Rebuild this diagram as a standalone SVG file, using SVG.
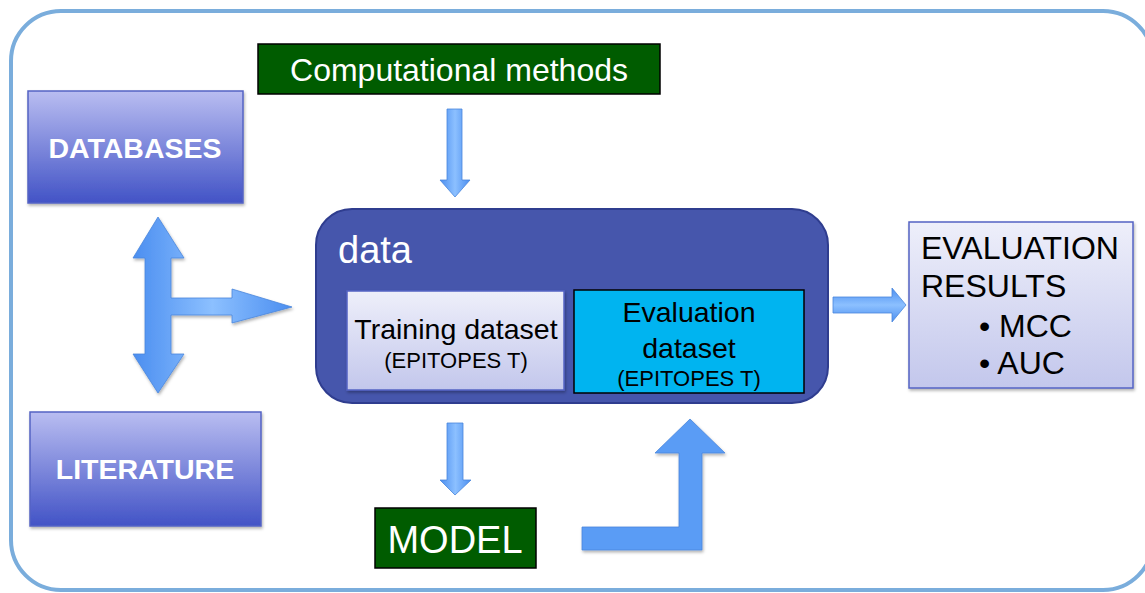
<svg xmlns="http://www.w3.org/2000/svg" width="1145" height="593" viewBox="0 0 1145 593">
<defs>
<linearGradient id="gBlue" x1="0" y1="0" x2="0" y2="1">
<stop offset="0" stop-color="#b9bdf1"/>
<stop offset="1" stop-color="#4253c6"/>
</linearGradient>
<linearGradient id="gLight" x1="0" y1="0" x2="0" y2="1">
<stop offset="0" stop-color="#eeeffa"/>
<stop offset="1" stop-color="#c3c7ec"/>
</linearGradient>
<linearGradient id="gArrV" x1="0" y1="0" x2="1" y2="0">
<stop offset="0" stop-color="#4b8ef0"/>
<stop offset="0.5" stop-color="#8cc0ff"/>
<stop offset="1" stop-color="#4b8ef0"/>
</linearGradient>
<linearGradient id="gArrH" x1="0" y1="0" x2="0" y2="1">
<stop offset="0" stop-color="#4b8ef0"/>
<stop offset="0.5" stop-color="#8cc0ff"/>
<stop offset="1" stop-color="#4b8ef0"/>
</linearGradient>
<filter id="sh" x="-10%" y="-10%" width="130%" height="130%">
<feDropShadow dx="1" dy="2" stdDeviation="1.5" flood-color="#000" flood-opacity="0.3"/>
</filter>
</defs>
<style>
.blue{fill:url(#gBlue);stroke:#5463c4;stroke-width:1.5}
.light{fill:url(#gLight);stroke:#5463c4;stroke-width:1.5}
.green{fill:#005c00;stroke:#000;stroke-width:1.5}
.bold{font-family:"Liberation Sans",Arial,sans-serif;font-weight:bold;fill:#fff;font-size:28.5px;text-anchor:middle}
.t{font-family:"Liberation Sans",Arial,sans-serif;fill:#000}
.w{font-family:"Liberation Sans",Arial,sans-serif;fill:#fff}
.arr{fill:#5a9cf5;stroke:#4a86dc;stroke-width:0.8}
</style>
<rect x="11" y="11" width="1142" height="579" rx="50" fill="#fff" stroke="#7aaddc" stroke-width="4"/>

<g id="databases">
<rect x="28" y="91" width="215" height="112" class="blue" filter="url(#sh)"/>
<text x="135" y="158" class="bold">DATABASES</text>
</g>
<g id="literature">
<rect x="30" y="412" width="231" height="114" class="blue" filter="url(#sh)"/>
<text x="145" y="479" class="bold">LITERATURE</text>
</g>
<g id="computational">
<rect x="258" y="44" width="402" height="50" class="green"/>
<text x="459" y="81" class="w" font-size="32" text-anchor="middle">Computational methods</text>
</g>
<g id="data">
<rect x="316" y="209" width="512" height="194" rx="36" fill="#4656ac" stroke="#2f3d8f" stroke-width="2"/>
<text x="338" y="263" class="w" font-size="38">data</text>
</g>
<g id="training">
<rect x="347" y="291" width="217" height="99" class="light" stroke="none" filter="url(#sh)"/>
<text x="456" y="339" class="t" font-size="28.5" text-anchor="middle">Training dataset</text>
<text x="456" y="368" class="t" font-size="22" text-anchor="middle">(EPITOPES T)</text>
</g>
<g id="evaluation">
<rect x="574" y="290" width="230" height="103" fill="#00b4f0" stroke="#000" stroke-width="1.5"/>
<text x="689" y="322" class="t" font-size="28.5" text-anchor="middle">Evaluation</text>
<text x="689" y="358" class="t" font-size="28.5" text-anchor="middle">dataset</text>
<text x="689" y="386" class="t" font-size="22" text-anchor="middle">(EPITOPES T)</text>
</g>
<g id="results">
<rect x="909" y="222" width="224" height="166" class="light" filter="url(#sh)"/>
<text x="921" y="259" class="t" font-size="32">EVALUATION</text>
<text x="921" y="297" class="t" font-size="32">RESULTS</text>
<text x="979" y="337" class="t" font-size="32">• MCC</text>
<text x="979" y="374" class="t" font-size="32">• AUC</text>
</g>
<g id="model">
<rect x="375" y="508" width="161" height="60" class="green"/>
<text x="455" y="553" class="w" font-size="38" text-anchor="middle">MODEL</text>
</g>

<g id="connectors">
<path d="M158,217 L184,258 L171,258 L171,298 L232,298 L232,289 L292,307 L232,323 L232,315 L171,315 L171,354 L184,354 L158,393 L133,354 L145,354 L145,258 L133,258 Z" fill="url(#gArrV)" stroke="#4a86dc" stroke-width="0.8" filter="url(#sh)"/>
<path d="M447,109 L462,109 L462,180 L470,180 L455,197 L440,180 L447,180 Z" fill="url(#gArrV)" stroke="#4a86dc" stroke-width="0.8"/>
<path d="M447,423 L463,423 L463,480 L471,480 L455,495 L440,480 L447,480 Z" fill="url(#gArrV)" stroke="#4a86dc" stroke-width="0.8"/>
<path d="M833,297 L892,297 L892,288 L906,305 L892,322 L892,313 L833,313 Z" fill="url(#gArrH)" stroke="#4a86dc" stroke-width="0.8"/>
<path d="M582,527 L679,527 L679,453 L655,453 L690,419 L725,453 L702,453 L702,550 L582,550 Z" class="arr" filter="url(#sh)"/>
</g>
</svg>
